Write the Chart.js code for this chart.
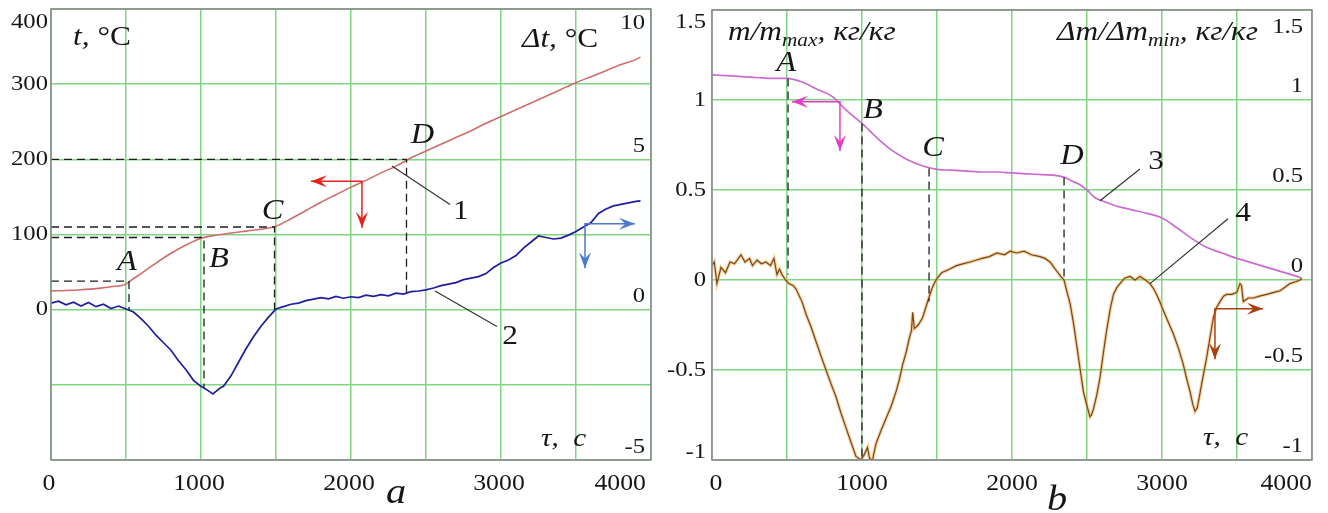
<!DOCTYPE html>
<html>
<head>
<meta charset="utf-8">
<script src="https://cdn.jsdelivr.net/npm/chart.js@4.4.1/dist/chart.umd.min.js"></script>
<style>
  body { margin: 0; background: #fff; }
  #wrapA { position: absolute; left: 0; top: 0; width: 662px; height: 513px; }
  #wrapB { position: absolute; left: 662px; top: 0; width: 666px; height: 513px; }
</style>
</head>
<body>
<div id="wrapA"><canvas id="chartA"></canvas></div>
<div id="wrapB"><canvas id="chartB"></canvas></div>
<script>
// ---- panel a: temperature (1) and temperature difference (2)
const tauT = [0, 100, 200, 300, 400, 500, 520, 600, 700, 800, 900, 1000, 1100, 1200, 1300, 1400, 1500, 1600, 1700, 1800, 1900, 2000,
  2100, 2200, 2300, 2400, 2500, 2600, 2700, 2800, 2900, 3000, 3100, 3200, 3300, 3400, 3500, 3600, 3700, 3800, 3900, 3930];
const tempT = [25, 25.5, 26.5, 28, 30.5, 34, 37, 48, 62, 75, 86, 95, 99, 102, 104.5, 107, 111, 121, 132, 143, 153, 163,
  172, 182, 191, 202, 211, 220, 229, 238, 248, 257, 266, 275, 284, 293, 302, 310, 318, 326, 333, 336];

const tauDt = [0, 50, 100, 150, 200, 250, 300, 350, 400, 450, 500, 550, 600, 650, 700, 750, 800, 850, 900, 950, 1000, 1050, 1080,
  1100, 1130, 1150, 1200, 1250, 1300, 1350, 1400, 1450, 1500, 1550, 1600, 1650, 1700, 1750, 1800, 1850, 1900, 1950, 2000,
  2050, 2100, 2150, 2200, 2250, 2300, 2350, 2400, 2450, 2500, 2550, 2600, 2650, 2700, 2750, 2800, 2850, 2900, 2950, 3000,
  3050, 3100, 3150, 3200, 3250, 3300, 3350, 3400, 3450, 3500, 3550, 3600, 3650, 3700, 3750, 3800, 3850, 3900, 3930];
const deltaT = [0.22, 0.28, 0.16, 0.25, 0.12, 0.24, 0.1, 0.18, 0.04, 0.12, 0.02, -0.08, -0.3, -0.55, -0.85, -1.1, -1.35, -1.7, -2.0, -2.35, -2.55, -2.7, -2.8,
  -2.72, -2.6, -2.55, -2.2, -1.75, -1.3, -0.9, -0.55, -0.25, 0.02, 0.1, 0.18, 0.22, 0.3, 0.35, 0.4, 0.36, 0.44, 0.38, 0.43,
  0.4, 0.48, 0.44, 0.5, 0.46, 0.55, 0.52, 0.6, 0.62, 0.66, 0.72, 0.8, 0.85, 0.9, 1.0, 1.05, 1.1, 1.2, 1.4, 1.55,
  1.65, 1.8, 2.05, 2.25, 2.45, 2.4, 2.35, 2.38, 2.48, 2.6, 2.75, 2.9, 3.2, 3.35, 3.45, 3.5, 3.55, 3.6, 3.62];

// ---- panel b: relative mass (3) and mass rate (4)
const tauM = [0, 100, 200, 300, 400, 500, 600, 700, 800, 900, 1000, 1100, 1200, 1300, 1400, 1500, 1600, 1700, 1800, 1900, 2000,
  2100, 2200, 2300, 2350, 2400, 2450, 2500, 2550, 2600, 2700, 2800, 2900, 3000, 3100, 3200, 3300, 3400, 3500, 3600, 3700, 3800, 3900, 3930];
const massM = [1.14, 1.135, 1.13, 1.125, 1.12, 1.12, 1.1, 1.06, 1.02, 0.94, 0.87, 0.79, 0.72, 0.67, 0.635, 0.615, 0.61, 0.605, 0.6, 0.6, 0.595,
  0.59, 0.585, 0.58, 0.57, 0.55, 0.53, 0.5, 0.46, 0.44, 0.41, 0.39, 0.37, 0.345, 0.29, 0.23, 0.18, 0.15, 0.12, 0.095, 0.07, 0.045, 0.02, 0.01];

const tauDm = [0, 15, 33, 60, 90, 120, 150, 193, 220, 250, 270, 300, 330, 360, 390, 413, 433, 450, 467, 490, 513, 540, 560, 600, 627,
  660, 693, 730, 760, 795, 827, 860, 893, 930, 960, 993, 1015, 1037, 1050, 1070, 1093, 1125, 1160, 1195, 1227, 1250, 1271, 1295,
  1316, 1330, 1338, 1349, 1375, 1404, 1430, 1449, 1470, 1493, 1530, 1582, 1630, 1671, 1720, 1760, 1800, 1849, 1900, 1950, 1987,
  2030, 2080, 2130, 2187, 2220, 2253, 2280, 2298, 2325, 2347, 2365, 2387, 2410, 2431, 2455, 2476, 2500, 2520, 2530, 2542, 2565,
  2587, 2610, 2631, 2655, 2676, 2700, 2720, 2750, 2787, 2820, 2853, 2890, 2920, 2945, 2964, 2985, 3009, 3040, 3076, 3110, 3142,
  3165, 3187, 3205, 3220, 3235, 3253, 3275, 3298, 3320, 3342, 3365, 3387, 3410, 3431, 3465, 3498, 3520, 3530, 3542, 3575, 3609,
  3650, 3698, 3740, 3787, 3820, 3853, 3890, 3920, 3933];
const deltaM = [0.08, 0.1, -0.02, 0.07, 0.04, 0.1, 0.09, 0.14, 0.1, 0.12, 0.08, 0.11, 0.09, 0.1, 0.08, 0.12, 0.03, 0.06, 0.03, 0.0, -0.02, -0.03, -0.05, -0.12, -0.19,
  -0.26, -0.34, -0.43, -0.5, -0.58, -0.65, -0.74, -0.82, -0.91, -0.98, -1.0, -0.97, -0.93, -0.99, -1.0, -0.91, -0.84, -0.77, -0.7, -0.62, -0.55, -0.47, -0.4,
  -0.32, -0.28, -0.18, -0.27, -0.25, -0.21, -0.14, -0.09, -0.04, 0.0, 0.04, 0.06, 0.08, 0.09, 0.1, 0.11, 0.12, 0.13, 0.15, 0.14, 0.16,
  0.15, 0.16, 0.14, 0.13, 0.12, 0.1, 0.07, 0.05, 0.02, 0.0, -0.06, -0.13, -0.24, -0.36, -0.5, -0.62, -0.7, -0.76, -0.75, -0.72, -0.64,
  -0.54, -0.4, -0.28, -0.16, -0.08, -0.04, -0.02, 0.01, 0.02, 0.0, 0.02, 0.0, -0.02, -0.05, -0.08, -0.12, -0.17, -0.23, -0.3, -0.38, -0.47,
  -0.55, -0.62, -0.69, -0.73, -0.71, -0.63, -0.53, -0.43, -0.32, -0.21, -0.15, -0.12, -0.09, -0.08, -0.08, -0.07, -0.02, -0.03, -0.12, -0.1, -0.1,
  -0.09, -0.08, -0.07, -0.06, -0.04, -0.02, -0.01, 0.0, 0.01];

// tick labels
const tauTicks = [0, 1000, 2000, 3000, 4000];
const tTicks = [0, 100, 200, 300, 400];
const dtTicks = [-5, 0, 5, 10];
const massTicks = [-1, -0.5, 0, 0.5, 1, 1.5];

// characteristic points A..D
const keyNames = ['A', 'B', 'C', 'D'];
const keyTauA = [520, 1020, 1490, 2370];
const keyTempA = [38, 96, 110, 200];
const keyDtA = [0, -2.6, 0, 0.55];
const keyTauB = [507, 1000, 1447, 2347];
const keyMassB = [1.12, 0.87, 0.62, 0.57];
const keyDmB = [0.03, -1.0, -0.12, 0.0];

// curve numbers: leader start, leader end, label position (tau, value)
const leadersA = [
  { n: '1', axis: 'y', from: [2273, 191], to: [2660, 140], at: [2733, 130] },
  { n: '2', axis: 'y2', from: [2560, 0.62], to: [2973, -0.56], at: [3060, -0.89] }
];
const leadersB = [
  { n: '3', axis: 'y', from: [2587, 0.44], to: [2853, 0.617], at: [2960, 0.66] },
  { n: '4', axis: 'y2', from: [2920, -0.02], to: [3440, 0.34], at: [3540, 0.37] }
];

// axis arrows: origin, horizontal tip tau, vertical tip value
const arrowsA = [
  { axis: 'y', tau: 2073, v: 171, toTau: 1733, toV: 109, color: '#e5231d' },
  { axis: 'y2', tau: 3560, v: 2.86, toTau: 3893, toV: 1.38, color: '#4a7bcc' }
];
const arrowsB = [
  { axis: 'y', tau: 853, v: 0.99, toTau: 533, toV: 0.717, color: '#e23fc6' },
  { axis: 'y2', tau: 3353, v: -0.16, toTau: 3673, toV: -0.44, color: '#a8420c' }
];

const SERIF = '"Liberation Serif", "Times New Roman", serif';
const SX = 1.12;
const GRID = '#80d680';

function xy(xs, ys) {
  return xs.map((x, i) => ({ x: x, y: ys[i] }));
}

// draws a run of text pieces, slightly widened like the scanned original
function textRun(ctx, parts, x, y, align, baseline) {
  ctx.save();
  ctx.fillStyle = '#161616';
  ctx.textBaseline = baseline || 'alphabetic';
  ctx.textAlign = 'left';
  let w = 0;
  parts.forEach(p => { ctx.font = p.font; w += ctx.measureText(p.s).width * SX; });
  let cx = align === 'right' ? x - w : align === 'center' ? x - w / 2 : x;
  parts.forEach(p => {
    ctx.font = p.font;
    const pw = ctx.measureText(p.s).width * SX;
    ctx.save();
    ctx.translate(cx, y + (p.dy || 0));
    ctx.scale(SX, 1);
    ctx.fillText(p.s, 0, 0);
    ctx.restore();
    cx += pw;
  });
  ctx.restore();
}

function label(ctx, s, x, y, font, align) {
  textRun(ctx, [{ s: s, font: font }], x, y, align, 'middle');
}

function arrowHead(ctx, x0, y0, x1, y1, color) {
  const ang = Math.atan2(y1 - y0, x1 - x0);
  const len = 16, half = 6;
  ctx.fillStyle = color;
  ctx.beginPath();
  ctx.moveTo(x1, y1);
  ctx.lineTo(x1 - len * Math.cos(ang) + half * Math.sin(ang), y1 - len * Math.sin(ang) - half * Math.cos(ang));
  ctx.lineTo(x1 - 0.6 * len * Math.cos(ang), y1 - 0.6 * len * Math.sin(ang));
  ctx.lineTo(x1 - len * Math.cos(ang) - half * Math.sin(ang), y1 - len * Math.sin(ang) + half * Math.cos(ang));
  ctx.closePath();
  ctx.fill();
}

function drawArrows(ctx, scales, list) {
  list.forEach(ar => {
    const ys = scales[ar.axis];
    const x0 = scales.x.getPixelForValue(ar.tau), y0 = ys.getPixelForValue(ar.v);
    const xh = scales.x.getPixelForValue(ar.toTau), yv = ys.getPixelForValue(ar.toV);
    ctx.save();
    ctx.strokeStyle = ar.color;
    ctx.lineWidth = 1.5;
    ctx.beginPath();
    ctx.moveTo(xh, y0); ctx.lineTo(x0, y0); ctx.lineTo(x0, yv);
    ctx.stroke();
    arrowHead(ctx, x0, y0, xh, y0, ar.color);
    arrowHead(ctx, x0, y0, x0, yv, ar.color);
    ctx.restore();
  });
}

function drawLeaders(ctx, scales, list) {
  list.forEach(l => {
    const ys = scales[l.axis];
    ctx.save();
    ctx.strokeStyle = '#333';
    ctx.lineWidth = 1.2;
    ctx.beginPath();
    ctx.moveTo(scales.x.getPixelForValue(l.from[0]), ys.getPixelForValue(l.from[1]));
    ctx.lineTo(scales.x.getPixelForValue(l.to[0]), ys.getPixelForValue(l.to[1]));
    ctx.stroke();
    ctx.restore();
    label(ctx, l.n, scales.x.getPixelForValue(l.at[0]), ys.getPixelForValue(l.at[1]), `28px ${SERIF}`, 'center');
  });
}

// dashed guides from the upper curve down to the lower one
function drawGuides(ctx, area, scales, taus, upper, lower, upAxis, lowAxis, horizontal) {
  ctx.save();
  ctx.setLineDash([8, 5]);
  ctx.strokeStyle = '#1e1e1e';
  ctx.lineWidth = 1.3;
  taus.forEach((tau, i) => {
    const px = scales.x.getPixelForValue(tau);
    const py = scales[upAxis].getPixelForValue(upper[i]);
    ctx.beginPath();
    if (horizontal) { ctx.moveTo(area.left, py); ctx.lineTo(px, py); } else { ctx.moveTo(px, py); }
    ctx.lineTo(px, scales[lowAxis].getPixelForValue(lower[i]));
    ctx.stroke();
  });
  ctx.restore();
}

function drawFrame(ctx, a) {
  ctx.save();
  ctx.strokeStyle = '#8c8c8c';
  ctx.lineWidth = 1.6;
  ctx.strokeRect(a.left, a.top, a.right - a.left, a.bottom - a.top);
  ctx.restore();
}

function baseScales(yMin, yMax, yStep, y2Min, y2Max) {
  const zeroW = s => { s.width = 0; };
  return {
    x: {
      type: 'linear', min: 0, max: 4000,
      ticks: { stepSize: 500, display: false },
      grid: { color: GRID, lineWidth: 1.5, drawTicks: false },
      border: { display: false },
      afterFit: s => { s.height = 0; }
    },
    y: {
      min: yMin, max: yMax,
      ticks: { stepSize: yStep, display: false },
      grid: { color: GRID, lineWidth: 1.5, drawTicks: false },
      border: { display: false },
      afterFit: zeroW
    },
    y2: {
      position: 'right', min: y2Min, max: y2Max,
      ticks: { display: false },
      grid: { display: false, drawTicks: false },
      border: { display: false },
      afterFit: zeroW
    }
  };
}

const NUM = `22px ${SERIF}`;
const XNUM = `23px ${SERIF}`;
const IT = size => `italic ${size}px ${SERIF}`;

const panelA = {
  id: 'panelA',
  afterDraw(chart) {
    const { ctx, chartArea: a, scales } = chart;
    drawGuides(ctx, a, scales, keyTauA, keyTempA, keyDtA, 'y', 'y2', true);
    drawFrame(ctx, a);
    drawArrows(ctx, scales, arrowsA);
    drawLeaders(ctx, scales, leadersA);

    const offs = [[-2, -19], [15, 22], [-2, -16], [16, -24]];
    keyNames.forEach((n, i) => {
      label(ctx, n, scales.x.getPixelForValue(keyTauA[i]) + offs[i][0],
        scales.y.getPixelForValue(keyTempA[i]) + offs[i][1], IT(29), 'center');
    });

    tTicks.forEach(v => {
      let py = scales.y.getPixelForValue(v);
      if (v === scales.y.max) py += 13;
      label(ctx, String(v), a.left - 3, py, NUM, 'right');
    });
    dtTicks.forEach(v => {
      let py = scales.y2.getPixelForValue(v) - 13;
      if (v === scales.y2.max) py = a.top + 14;
      label(ctx, String(v), a.right - 6, py, NUM, 'right');
    });
    tauTicks.forEach((v, i) => {
      if (i === tauTicks.length - 1) label(ctx, String(v), a.right - 5, 484, XNUM, 'right');
      else label(ctx, String(v), scales.x.getPixelForValue(v) - 2, 484, XNUM, 'center');
    });

    textRun(ctx, [{ s: 't,', font: IT(28) }, { s: ' °C', font: `28px ${SERIF}` }], 73, 45, 'left');
    textRun(ctx, [{ s: 'Δt,', font: IT(28) }, { s: ' °C', font: `28px ${SERIF}` }], 522, 47, 'left');
    textRun(ctx, [{ s: 'τ,  c', font: IT(26) }], 541, 446, 'left');
    textRun(ctx, [{ s: 'a', font: IT(36) }], 396, 503, 'center');
  }
};

const panelB = {
  id: 'panelB',
  afterDraw(chart) {
    const { ctx, chartArea: a, scales } = chart;
    drawGuides(ctx, a, scales, keyTauB, keyMassB, keyDmB, 'y', 'y2', false);
    drawFrame(ctx, a);
    drawArrows(ctx, scales, arrowsB);
    drawLeaders(ctx, scales, leadersB);

    const offs = [[-2, -15], [11, -13], [4, -20], [8, -21]];
    keyNames.forEach((n, i) => {
      label(ctx, n, scales.x.getPixelForValue(keyTauB[i]) + offs[i][0],
        scales.y.getPixelForValue(keyMassB[i]) + offs[i][1], IT(29), 'center');
    });

    massTicks.forEach(v => {
      let py = scales.y.getPixelForValue(v);
      if (v === scales.y.max) py = a.top + 12;
      if (v === scales.y.min) py -= 8;
      label(ctx, String(v), a.left - 6, py, NUM, 'right');
      let pr = scales.y2.getPixelForValue(v) - 14;
      if (v === scales.y2.max) pr = a.top + 17;
      label(ctx, String(v), a.right - 9, pr, NUM, 'right');
    });
    tauTicks.forEach((v, i) => {
      if (i === tauTicks.length - 1) label(ctx, String(v), a.right, 484, XNUM, 'right');
      else if (i === 0) label(ctx, String(v), scales.x.getPixelForValue(v) + 4, 484, XNUM, 'center');
      else label(ctx, String(v), scales.x.getPixelForValue(v), 484, XNUM, 'center');
    });

    // this canvas starts 662px to the right, so positions are local to it
    textRun(ctx, [{ s: 'm/m', font: IT(28) }, { s: 'max', font: IT(19), dy: 6 }, { s: ', кг/кг', font: IT(28) }], a.left + 16, 40, 'left');
    textRun(ctx, [{ s: 'Δm/Δm', font: IT(28) }, { s: 'min', font: IT(19), dy: 6 }, { s: ', кг/кг', font: IT(28) }], a.right - 54, 40, 'right');
    textRun(ctx, [{ s: 'τ,  c', font: IT(26) }], a.right - 109, 445, 'left');
    textRun(ctx, [{ s: 'b', font: IT(36) }], a.left + 345, 510, 'center');
  }
};

const common = {
  responsive: true,
  maintainAspectRatio: false,
  animation: false,
  devicePixelRatio: 1,
  plugins: { legend: { display: false }, tooltip: { enabled: false } },
  elements: { point: { radius: 0 } }
};

new Chart(document.getElementById('chartA'), {
  type: 'line',
  data: {
    datasets: [
      {
        label: '1', data: xy(tauT, tempT), yAxisID: 'y',
        borderColor: '#cf6c6c', borderWidth: 1.6, cubicInterpolationMode: 'monotone'
      },
      {
        label: '2', data: xy(tauDt, deltaT), yAxisID: 'y2',
        borderColor: '#1d1f9c', borderWidth: 1.7, tension: 0
      }
    ]
  },
  options: Object.assign({}, common, {
    layout: { padding: { left: 51, top: 9, right: 11, bottom: 53 } },
    scales: baseScales(-200, 400, 100, -5, 10)
  }),
  plugins: [panelA]
});

new Chart(document.getElementById('chartB'), {
  type: 'line',
  data: {
    datasets: [
      {
        label: '3', data: xy(tauM, massM), yAxisID: 'y',
        borderColor: '#c96ccf', borderWidth: 1.7, cubicInterpolationMode: 'monotone', order: 0
      },
      {
        label: '4', data: xy(tauDm, deltaM), yAxisID: 'y2',
        borderColor: '#74471c', borderWidth: 1.2, tension: 0, order: 1
      },
      {
        label: '4 halo', data: xy(tauDm, deltaM), yAxisID: 'y2',
        borderColor: 'rgba(240, 170, 80, 0.55)', borderWidth: 3.4, tension: 0, order: 2
      }
    ]
  },
  options: Object.assign({}, common, {
    layout: { padding: { left: 50, top: 10, right: 16, bottom: 53 } },
    scales: baseScales(-1, 1.5, 0.5, -1, 1.5)
  }),
  plugins: [panelB]
});
</script>
</body>
</html>
